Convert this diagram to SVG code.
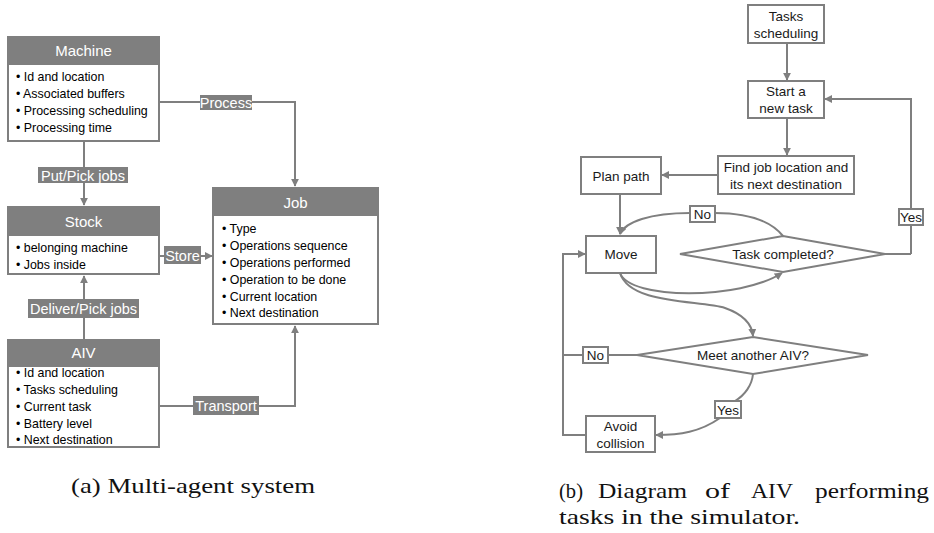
<svg xmlns="http://www.w3.org/2000/svg" width="934" height="533" viewBox="0 0 934 533">
<defs>
<marker id="ah" viewBox="0 0 10 10" refX="9" refY="5" markerWidth="4" markerHeight="4" orient="auto-start-reverse" markerUnits="strokeWidth">
<path d="M0,0 L10,5 L0,10 z" fill="#7f7f7f"/>
</marker>
</defs>
<style>
.hdr{fill:#7f7f7f;stroke:#7f7f7f;stroke-width:2}
.body{fill:#fff;stroke:#7f7f7f;stroke-width:2}
.ht{font-family:"Liberation Sans",Arial,sans-serif;font-size:15px;fill:#fff;text-anchor:middle}
.it{font-family:"Liberation Sans",Arial,sans-serif;font-size:12.4px;fill:#000}
.lbl{fill:#7f7f7f}
.lt{font-family:"Liberation Sans",Arial,sans-serif;font-size:14.5px;fill:#fff;text-anchor:middle}
.ln{fill:none;stroke:#7f7f7f;stroke-width:2}
.box{fill:#fff;stroke:#7f7f7f;stroke-width:2}
.bt{font-family:"Liberation Sans",Arial,sans-serif;font-size:13.5px;fill:#1a1a1a;text-anchor:middle}
.cap{font-family:"Liberation Serif","Times New Roman",serif;font-size:21px;fill:#111}
</style>
<rect width="934" height="533" fill="#fff"/>

<g id="connectors">
<path class="ln" d="M159,102 H295 V186" marker-end="url(#ah)"/>
<path class="ln" d="M84,141 V205" marker-end="url(#ah)"/>
<path class="ln" d="M159,256 H212" marker-end="url(#ah)"/>
<path class="ln" d="M84,340 V276" marker-end="url(#ah)"/>
<path class="ln" d="M159,406 H295 V326" marker-end="url(#ah)"/>
<path class="ln" d="M787,43 V80" marker-end="url(#ah)"/>
<path class="ln" d="M787,118 V155" marker-end="url(#ah)"/>
<path class="ln" d="M718,175 H662" marker-end="url(#ah)"/>
<path class="ln" d="M911,254 V99 H825" marker-end="url(#ah)"/>
<path class="ln" d="M885,254 H911"/>
<path class="ln" d="M620,194 V234" marker-end="url(#ah)"/>
<path class="ln" d="M783,236 C770,220 745,213 715,213 M690,213 C650,213 625,222 620,234" marker-end="url(#ah)"/>
<path class="ln" d="M620,273 C630,300 740,300 782,273" marker-end="url(#ah)"/>
<path class="ln" d="M620,273 C630,305 700,300 725,308 C745,315 752,325 753,336" marker-end="url(#ah)"/>
<path class="ln" d="M637,355 H563 V254 H585" marker-end="url(#ah)"/>
<path class="ln" d="M586,435 H563 V355"/>
<path class="ln" d="M753,374 C752,385 745,395 735,401 M720,418 C700,432 680,435 656,435" marker-end="url(#ah)"/>
<rect class="lbl" x="200" y="95" width="52" height="15"/>
<text class="lt" x="226" y="108">Process</text>
<rect class="lbl" x="38" y="167" width="90" height="16"/>
<text class="lt" x="83" y="180.5">Put/Pick jobs</text>
<rect class="lbl" x="164" y="246" width="37" height="18"/>
<text class="lt" x="182.5" y="260.5">Store</text>
<rect class="lbl" x="28" y="299" width="111" height="19"/>
<text class="lt" x="83.5" y="313.5">Deliver/Pick jobs</text>
<rect class="lbl" x="193" y="396" width="66" height="19"/>
<text class="lt" x="226" y="410.5">Transport</text>
<rect class="box" x="690" y="206" width="25" height="16"/>
<text class="bt" x="702.5" y="219">No</text>
<rect class="box" x="899" y="209" width="24" height="16"/>
<text class="bt" x="911" y="222">Yes</text>
<rect class="box" x="583" y="347" width="25" height="16"/>
<text class="bt" x="595.5" y="360">No</text>
<rect class="box" x="715" y="401" width="26" height="17"/>
<text class="bt" x="728" y="414.5">Yes</text>
</g>

<g id="machine">
<rect class="body" x="8" y="37" width="151" height="104"/>
<rect class="hdr" x="8" y="37" width="151" height="27"/>
<text class="ht" x="83.5" y="56">Machine</text>
<text class="it" x="16" y="81">• Id and location</text>
<text class="it" x="16" y="98">• Associated buffers</text>
<text class="it" x="16" y="115">• Processing scheduling</text>
<text class="it" x="16" y="132">• Processing time</text>
</g>

<g id="stock">
<rect class="body" x="8" y="207" width="151" height="67"/>
<rect class="hdr" x="8" y="207" width="151" height="28"/>
<text class="ht" x="83.5" y="227">Stock</text>
<text class="it" x="16" y="252">• belonging machine</text>
<text class="it" x="16" y="269">• Jobs inside</text>
</g>

<g id="job">
<rect class="body" x="213" y="188" width="165" height="136"/>
<rect class="hdr" x="213" y="188" width="165" height="27"/>
<text class="ht" x="295.5" y="208">Job</text>
<text class="it" x="222" y="233">• Type</text>
<text class="it" x="222" y="250">• Operations sequence</text>
<text class="it" x="222" y="267">• Operations performed</text>
<text class="it" x="222" y="284">• Operation to be done</text>
<text class="it" x="222" y="301">• Current location</text>
<text class="it" x="222" y="317">• Next destination</text>
</g>

<g id="aiv">
<rect class="body" x="8" y="340" width="151" height="107"/>
<rect class="hdr" x="8" y="340" width="151" height="26"/>
<text class="ht" x="83.5" y="358">AIV</text>
<text class="it" x="16" y="377">• Id and location</text>
<text class="it" x="16" y="394">• Tasks scheduling</text>
<text class="it" x="16" y="411">• Current task</text>
<text class="it" x="16" y="428">• Battery level</text>
<text class="it" x="16" y="444">• Next destination</text>
</g>

<g id="tasks-scheduling">
<rect class="box" x="748" y="5" width="76" height="38"/>
<text class="bt" x="786" y="20.5">Tasks</text>
<text class="bt" x="786" y="38">scheduling</text>
</g>
<g id="start-task">
<rect class="box" x="748" y="81" width="76" height="37"/>
<text class="bt" x="786" y="96">Start a</text>
<text class="bt" x="786" y="113">new task</text>
</g>
<g id="find-job">
<rect class="box" x="718" y="156" width="136" height="38"/>
<text class="bt" x="786" y="171.5">Find job location and</text>
<text class="bt" x="786" y="189">its next destination</text>
</g>
<g id="plan-path">
<rect class="box" x="581" y="157" width="80" height="37"/>
<text class="bt" x="621" y="180.5">Plan path</text>
</g>
<g id="move">
<rect class="box" x="586" y="236" width="70" height="37"/>
<text class="bt" x="621" y="259">Move</text>
</g>
<g id="task-completed">
<polygon class="box" points="680,254 783,236 885,254 783,272"/>
<text class="bt" x="783" y="259">Task completed?</text>
</g>
<g id="meet-aiv">
<polygon class="box" points="637,355 753,337 868,355 753,374"/>
<text class="bt" x="753" y="360">Meet another AIV?</text>
</g>
<g id="avoid-collision">
<rect class="box" x="586" y="416" width="69" height="36"/>
<text class="bt" x="620.5" y="430.5">Avoid</text>
<text class="bt" x="620.5" y="447.5">collision</text>
</g>

<text class="cap" x="71" y="493" textLength="244" lengthAdjust="spacingAndGlyphs">(a) Multi-agent system</text>
<text class="cap" x="559" y="498" textLength="24" lengthAdjust="spacingAndGlyphs">(b)</text>
<text class="cap" x="598" y="498" textLength="89" lengthAdjust="spacingAndGlyphs">Diagram</text>
<text class="cap" x="705" y="498" textLength="25" lengthAdjust="spacingAndGlyphs">of</text>
<text class="cap" x="751" y="498" textLength="42" lengthAdjust="spacingAndGlyphs">AIV</text>
<text class="cap" x="815" y="498" textLength="114" lengthAdjust="spacingAndGlyphs">performing</text>
<text class="cap" x="559" y="524" textLength="241" lengthAdjust="spacingAndGlyphs">tasks in the simulator.</text>
</svg>
